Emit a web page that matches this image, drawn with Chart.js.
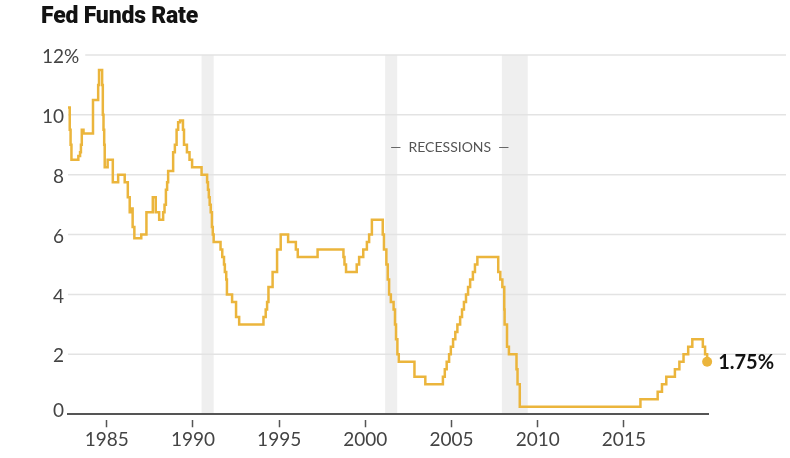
<!DOCTYPE html>
<html>
<head>
<meta charset="utf-8">
<script src="https://cdn.jsdelivr.net/npm/chart.js@4/dist/chart.umd.min.js"></script>
<style>
  body { margin: 0; background: #fff; }
  #wrap { position: relative; width: 790px; height: 458px; }
  #title {
    position: absolute; left: 41px; top: 2px;
    font: 900 23px Roboto, sans-serif; color: #121212; letter-spacing: -0.2px;
  }
</style>
</head>
<body>
<div id="wrap">
  <canvas id="chart"></canvas>
  <div id="title">Fed Funds Rate</div>
</div>
<script>
// target rate changes (decimal year, percent)
const changeDates = [
  1982.75, 1982.85, 1982.9, 1982.95, 1983.35, 1983.45, 1983.5, 1983.55, 1983.65,
  1984.2, 1984.5, 1984.55, 1984.73, 1984.77, 1984.81, 1984.85, 1984.88,
  1985.05, 1985.35, 1985.66, 1986.04, 1986.22, 1986.33, 1986.4, 1986.5, 1986.6,
  1987.0, 1987.3, 1987.67, 1987.84, 1988.04, 1988.27, 1988.35, 1988.43, 1988.5, 1988.56,
  1988.85, 1988.95, 1989.05, 1989.14, 1989.25, 1989.42, 1989.48, 1989.65, 1989.8, 1989.95,
  1990.5, 1990.82, 1990.87, 1990.92, 1990.97, 1991.03, 1991.1, 1991.15, 1991.2,
  1991.6, 1991.7, 1991.8, 1991.85, 1991.93, 1991.97, 1992.27, 1992.5, 1992.68,
  1994.09, 1994.22, 1994.3, 1994.38, 1994.62, 1994.88, 1995.09, 1995.52, 1995.97, 1996.08,
  1997.23, 1998.73, 1998.79, 1998.88, 1999.5, 1999.64, 1999.88, 2000.09, 2000.22, 2000.38,
  2001.01, 2001.08, 2001.22, 2001.3, 2001.38, 2001.48, 2001.64, 2001.72, 2001.78, 2001.86, 2001.94,
  2002.85, 2003.48, 2004.5, 2004.61, 2004.72, 2004.86, 2004.96, 2005.09, 2005.22, 2005.34,
  2005.5, 2005.61, 2005.72, 2005.84, 2005.96, 2006.08, 2006.24, 2006.36, 2006.5,
  2007.71, 2007.83, 2007.95, 2008.06, 2008.08, 2008.22, 2008.33, 2008.77, 2008.83, 2008.96,
  2015.96, 2016.96, 2017.21, 2017.46, 2017.96, 2018.22, 2018.46, 2018.73, 2018.97,
  2019.58, 2019.71, 2019.83
];
const rates = [
  10.25, 9.5, 9.0, 8.5, 8.625, 8.75, 9.0, 9.5, 9.375,
  10.5, 11.0, 11.5, 11.0, 10.0, 9.5, 9.0, 8.25,
  8.5, 7.75, 8.0, 7.75, 7.25, 6.75, 6.875, 6.25, 5.875,
  6.0, 6.75, 7.25, 6.75, 6.5, 6.75, 7.0, 7.5, 7.75, 8.125,
  8.75, 9.0, 9.5, 9.75, 9.8125, 9.5, 9.0, 8.75, 8.5, 8.25,
  8.0, 7.75, 7.5, 7.25, 7.0, 6.75, 6.25, 6.0, 5.75,
  5.5, 5.25, 5.0, 4.75, 4.5, 4.0, 3.75, 3.25, 3.0,
  3.25, 3.5, 3.75, 4.25, 4.75, 5.5, 6.0, 5.75, 5.5, 5.25,
  5.5, 5.25, 5.0, 4.75, 5.0, 5.25, 5.5, 5.75, 6.0, 6.5,
  6.0, 5.5, 5.0, 4.5, 4.0, 3.75, 3.5, 3.0, 2.5, 2.0, 1.75,
  1.25, 1.0, 1.25, 1.5, 1.75, 2.0, 2.25, 2.5, 2.75, 3.0,
  3.25, 3.5, 3.75, 4.0, 4.25, 4.5, 4.75, 5.0, 5.25,
  4.75, 4.5, 4.25, 3.5, 3.0, 2.25, 2.0, 1.5, 1.0, 0.25,
  0.5, 0.75, 1.0, 1.25, 1.5, 1.75, 2.0, 2.25, 2.5,
  2.25, 2.0, 1.75
];
const recessionStarts = [1990.5, 2001.15, 2007.92];
const recessionEnds = [1991.2, 2001.85, 2009.42];
const yearTicks = [1985, 1990, 1995, 2000, 2005, 2010, 2015];
const rateTicks = [0, 2, 4, 6, 8, 10, 12];
const recessionLabel = '—  RECESSIONS  —';

const lineColor = '#ebb53c';
const labelFont = '19px Lato, sans-serif';

const backgroundPlugin = {
  id: 'background',
  beforeDraw(chart) {
    const { ctx, scales: { x, y } } = chart;
    ctx.save();
    // recession bands
    ctx.fillStyle = '#efefef';
    recessionStarts.forEach((s, i) => {
      const x0 = x.getPixelForValue(s);
      const x1 = x.getPixelForValue(recessionEnds[i]);
      const top = y.getPixelForValue(12);
      ctx.fillRect(x0, top, x1 - x0, y.getPixelForValue(0) - top);
    });
    // y labels and grid lines
    ctx.font = labelFont;
    ctx.fillStyle = '#444';
    ctx.textBaseline = 'middle';
    const labelRight = chart.chartArea.left - 4;
    rateTicks.forEach((v, i) => {
      const py = y.getPixelForValue(v);
      const ly = v === 0 ? py - 3 : py + 2;
      ctx.textAlign = 'right';
      ctx.fillText(String(v), labelRight, ly);
      let gridStart = labelRight + 4;
      if (i === rateTicks.length - 1) {
        ctx.textAlign = 'left';
        ctx.fillText('%', labelRight, ly);
        gridStart = labelRight + ctx.measureText('%').width + 6;
      }
      if (v !== 0) {
        ctx.strokeStyle = '#e3e3e3';
        ctx.lineWidth = 1.5;
        ctx.beginPath();
        ctx.moveTo(gridStart, py);
        ctx.lineTo(chart.width - 4, py);
        ctx.stroke();
      }
    });
    // recession label
    ctx.font = '14px Lato, sans-serif';
    ctx.fillStyle = '#555';
    ctx.textAlign = 'center';
    ctx.fillText(recessionLabel, x.getPixelForValue(2004.9), y.getPixelForValue(8.9));
    ctx.restore();
  }
};

const endLabelPlugin = {
  id: 'endLabel',
  afterDatasetsDraw(chart) {
    const { ctx } = chart;
    const pts = chart.getDatasetMeta(0).data;
    const last = pts[pts.length - 1];
    ctx.save();
    ctx.font = 'bold 20px Lato, sans-serif';
    ctx.fillStyle = '#121212';
    ctx.textAlign = 'left';
    ctx.textBaseline = 'middle';
    ctx.fillText(rates[rates.length - 1].toFixed(2) + '%', last.x + 11, last.y + 1);
    ctx.restore();
  }
};

new Chart(document.getElementById('chart'), {
  type: 'line',
  data: {
    datasets: [{
      data: changeDates.map((d, i) => ({ x: d, y: rates[i] })),
      stepped: 'before',
      borderColor: lineColor,
      backgroundColor: lineColor,
      borderWidth: 2.5,
      pointRadius: ctx => ctx.dataIndex === changeDates.length - 1 ? 5 : 0,
      pointBorderWidth: 0,
      clip: false
    }]
  },
  options: {
    responsive: true,
    maintainAspectRatio: false,
    animation: false,
    layout: { padding: { top: 55, left: 68, right: 82, bottom: 6 } },
    plugins: { legend: { display: false }, tooltip: { enabled: false } },
    scales: {
      x: {
        type: 'linear',
        min: 1982.75,
        max: 2019.88,
        afterBuildTicks: scale => { scale.ticks = yearTicks.map(v => ({ value: v })); },
        grid: {
          drawOnChartArea: false,
          tickLength: 13,
          tickWidth: 1.5,
          tickColor: '#555',
          tickBorderDash: [0, 5, 8, 100]
        },
        border: { display: true, color: '#555', width: 2 },
        ticks: {
          font: { family: 'Lato', size: 19 },
          color: '#444',
          padding: 1,
          maxRotation: 0,
          callback: v => String(v)
        }
      },
      y: {
        display: false,
        min: 0,
        max: 12
      }
    }
  },
  plugins: [backgroundPlugin, endLabelPlugin]
});
</script>
</body>
</html>
